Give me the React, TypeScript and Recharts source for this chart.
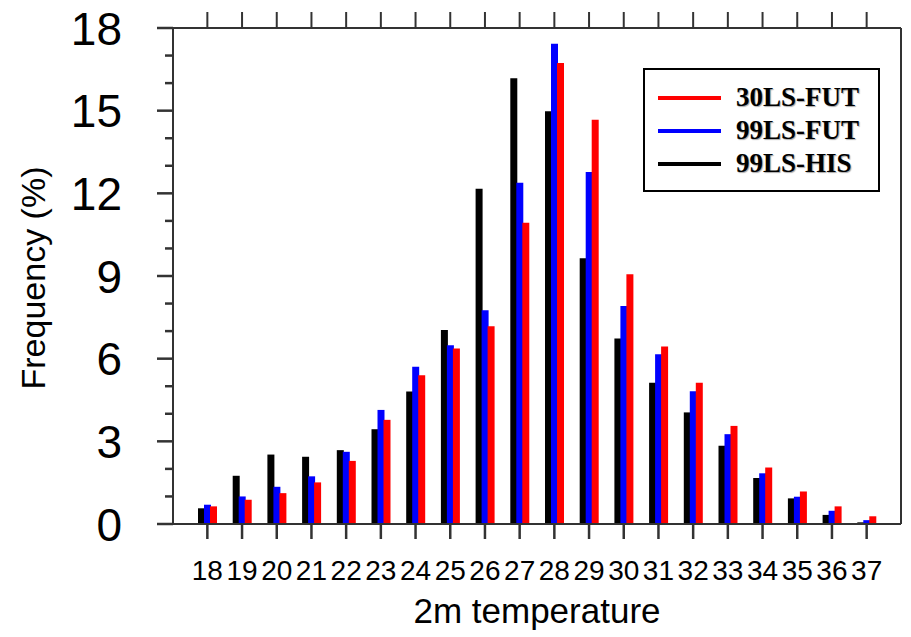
import { BarChart, Bar, XAxis, YAxis, Legend, Label } from 'recharts';

const temps = [18, 19, 20, 21, 22, 23, 24, 25, 26, 27, 28, 29, 30, 31, 32, 33, 34, 35, 36, 37];
const his99 = [0.57, 1.75, 2.52, 2.44, 2.68, 3.44, 4.81, 7.04, 12.17, 16.18, 14.98, 9.64, 6.73, 5.13, 4.05, 2.84, 1.67, 0.93, 0.33, 0.06];
const fut99 = [0.7, 1.0, 1.35, 1.73, 2.62, 4.14, 5.71, 6.49, 7.76, 12.38, 17.43, 12.77, 7.91, 6.16, 4.82, 3.26, 1.84, 0.99, 0.48, 0.14];
const fut30 = [0.64, 0.88, 1.12, 1.51, 2.29, 3.78, 5.4, 6.37, 7.18, 10.93, 16.73, 14.67, 9.06, 6.44, 5.13, 3.56, 2.05, 1.18, 0.64, 0.28];
const yTicks = [0, 1, 2, 3, 4, 5, 6, 7, 8, 9, 10, 11, 12, 13, 14, 15, 16, 17, 18];
const legendOrder = ['30LS-FUT', '99LS-FUT', '99LS-HIS'];

const data = temps.map((t, i) => ({ t, his: his99[i], f99: fut99[i], f30: fut30[i] }));

const SANS = '"Liberation Sans", Arial, Helvetica, sans-serif';
const AXIS = '#333';

// left axis: long ticks + labels every 3, short minor ticks every 1
const LeftTick = (props: any) => {
  const { x, y, payload } = props;
  const major = payload.value % 3 === 0;
  return (
    <g>
      <path d={`M${major ? x : x + 8},${y}H${x + 16}`} stroke={AXIS} strokeWidth={2.5} fill="none" />
      {major && (
        <text x={x - 35} y={y} dy="0.36em" textAnchor="end" fontSize={46} fontFamily={SANS} fill="#000">
          {payload.value}
        </text>
      )}
    </g>
  );
};

const RightTick = (props: any) => {
  const { x, y, payload } = props;
  const major = payload.value % 3 === 0;
  return <path d={`M${x - 10},${y}H${x - 10 + (major ? 10 : 5)}`} stroke={AXIS} strokeWidth={2.5} fill="none" />;
};

const TopTick = (props: any) => {
  const { x, y } = props;
  return <path d={`M${x},${y}V${y + 16}`} stroke={AXIS} strokeWidth={2} fill="none" />;
};

const BottomTick = (props: any) => {
  const { x, y, payload } = props;
  return (
    <g>
      <path d={`M${x},${y - 15}V${y}`} stroke={AXIS} strokeWidth={2.5} fill="none" />
      <text x={x} y={y + 21} dy="0.71em" textAnchor="middle" fontSize={28} fontFamily={SANS} fill="#000">
        {payload.value}
      </text>
    </g>
  );
};

const LegendBox = (props: any) => {
  const items = legendOrder
    .map((name) => (props.payload || []).find((p: any) => p.value === name))
    .filter(Boolean);
  return (
    <div
      style={{
        boxSizing: 'border-box',
        width: 237,
        height: 124,
        border: '2px solid #000',
        background: '#fff',
        paddingTop: 11,
      }}
    >
      {items.map((it: any) => (
        <div key={it.value} style={{ display: 'flex', alignItems: 'center', height: 33 }}>
          <div style={{ marginLeft: 13, width: 63, height: 4, background: it.color }} />
          <span
            style={{
              marginLeft: 15,
              fontFamily: '"Liberation Serif", "Times New Roman", serif',
              fontWeight: 'bold',
              fontSize: 27,
              color: '#000',
              textShadow: '1px 1px 1px rgba(0,0,0,0.35)',
            }}
          >
            {it.value}
          </span>
        </div>
      ))}
    </div>
  );
};

export default function App() {
  return (
    <div style={{ position: 'absolute', left: 0, top: 0, background: '#fff' }}>
      <BarChart width={911} height={637} data={data} margin={{ top: 0, right: 0, bottom: 0, left: 0 }} barSize={7} barGap={-1}>
        <XAxis
          dataKey="t"
          height={113}
          padding={{ left: 17, right: 17 }}
          interval={0}
          tickSize={15}
          tickMargin={0}
          tickLine={false}
          axisLine={{ stroke: AXIS, strokeWidth: 2 }}
          tick={BottomTick}
        >
          <Label value="2m temperature" position="insideBottom" offset={14} fontSize={35} fill="#000" fontFamily={SANS} />
        </XAxis>
        <XAxis
          xAxisId="top"
          dataKey="t"
          orientation="top"
          height={28}
          padding={{ left: 17, right: 17 }}
          interval={0}
          tickSize={16}
          tickMargin={0}
          tickLine={false}
          tick={TopTick}
          axisLine={{ stroke: AXIS, strokeWidth: 2 }}
        />
        <YAxis
          width={173}
          domain={[0, 18]}
          ticks={yTicks}
          interval={0}
          tickSize={16}
          tickMargin={0}
          tickLine={false}
          axisLine={{ stroke: AXIS, strokeWidth: 2 }}
          tick={LeftTick}
        >
          <Label
            content={() => (
              <text
                x={33}
                y={278}
                transform="rotate(-90 33 278)"
                textAnchor="middle"
                dominantBaseline="central"
                fontSize={34}
                fontFamily={SANS}
                fill="#000"
              >
                Frequency (%)
              </text>
            )}
          />
        </YAxis>
        <YAxis
          yAxisId="right"
          orientation="right"
          width={10}
          domain={[0, 18]}
          ticks={yTicks}
          interval={0}
          tickSize={10}
          tickMargin={0}
          tickLine={false}
          axisLine={{ stroke: AXIS, strokeWidth: 2 }}
          tick={RightTick}
        />
        <Legend
          layout="vertical"
          align="center"
          verticalAlign="middle"
          content={LegendBox}
          wrapperStyle={{ left: 643, top: 68, width: 237, height: 124 }}
        />
        <Bar dataKey="his" name="99LS-HIS" fill="#000000" isAnimationActive={false} />
        <Bar dataKey="f99" name="99LS-FUT" fill="#0000ff" isAnimationActive={false} />
        <Bar dataKey="f30" name="30LS-FUT" fill="#ff0000" isAnimationActive={false} />
      </BarChart>
    </div>
  );
}
